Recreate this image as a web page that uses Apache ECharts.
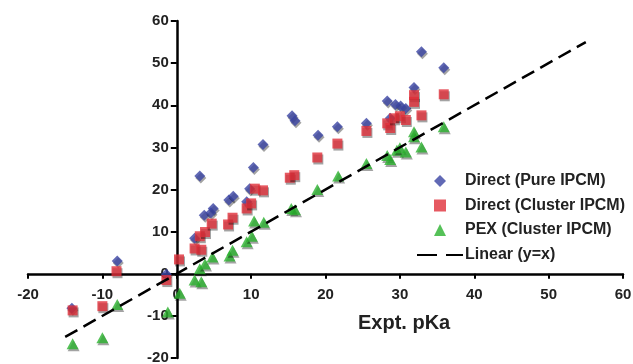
<!DOCTYPE html>
<html>
<head>
<meta charset="utf-8">
<script src="https://cdn.jsdelivr.net/npm/echarts@6/dist/echarts.min.js"></script>
<style>
  html, body { margin: 0; padding: 0; background: #fff; }
  #chart { width: 633px; height: 364px; }
</style>
</head>
<body>
<div id="chart"></div>
<script>
// Direct (Pure IPCM)
var pureX = [-14.1, -8.0, -1.4, 2.4, 3.1, 3.7, 4.9, 4.6, 7.0, 7.6, 9.4, 9.8, 10.3, 11.6, 15.5, 15.9, 19.0, 21.6, 25.5, 28.3, 28.7, 29.4, 30.1, 30.8, 31.9, 32.9, 35.9];
var pureY = [-8.2, 3.0, -0.1, 8.4, 23.2, 13.9, 15.5, 14.5, 17.5, 18.4, 17.1, 20.2, 25.2, 30.7, 37.5, 36.3, 32.9, 34.9, 35.7, 41.0, 36.9, 40.2, 39.8, 39.2, 44.2, 52.7, 48.9];
// Direct (Cluster IPCM)
var clusterX = [-14.0, -10.0, -8.1, -1.4, 0.3, 2.4, 3.3, 3.1, 3.8, 4.7, 6.9, 7.5, 9.4, 10.0, 10.5, 11.6, 15.2, 15.8, 18.9, 21.6, 25.5, 28.3, 28.7, 29.2, 30.0, 30.8, 31.9, 31.9, 32.9, 35.9];
var clusterY = [-8.7, -7.7, 0.6, -1.5, 3.4, 6.0, 5.7, 8.9, 9.9, 11.9, 11.7, 13.3, 15.5, 16.7, 20.2, 19.8, 22.8, 23.4, 27.6, 30.9, 33.9, 35.7, 34.6, 36.9, 37.4, 36.5, 42.4, 40.8, 37.6, 42.6];
// PEX (Cluster IPCM)
var pexX = [-14.0, -10.0, -8.0, -1.2, 0.4, 2.4, 3.3, 3.1, 3.8, 4.8, 7.1, 7.5, 9.4, 10.1, 10.4, 11.7, 15.4, 15.9, 18.9, 21.7, 25.5, 28.3, 28.7, 29.6, 30.0, 30.8, 31.9, 31.9, 32.9, 35.9];
var pexY = [-16.6, -15.2, -7.3, -9.1, -4.6, -1.5, -1.9, 1.2, 2.3, 4.0, 4.2, 5.6, 7.6, 8.9, 12.5, 12.2, 15.5, 15.2, 20.0, 23.2, 26.2, 28.1, 27.1, 29.3, 29.9, 28.9, 33.7, 32.5, 30.1, 34.9];
// Linear (y=x)
var lineX = [-15, 55];

var names = ['Direct (Pure IPCM)', 'Direct (Cluster IPCM)', 'PEX (Cluster IPCM)', 'Linear (y=x)'];

function pairs(xs, ys) {
  return xs.map(function (x, i) { return [x, ys[i]]; });
}

var shadow = { shadowColor: 'rgba(0,0,0,0.45)', shadowOffsetX: 1, shadowOffsetY: 2, shadowBlur: 0 };
var font = 'Liberation Sans, Arial, sans-serif';
var labelStyle = { fontFamily: font, fontSize: 15, fontWeight: 'bold', color: '#222' };

var chart = echarts.init(document.getElementById('chart'));
var option = {
  animation: false,
  title: {
    text: 'Expt. pKa',
    left: 353, top: 308,
    textStyle: { fontFamily: font, fontSize: 20, fontWeight: 'bold', color: '#222' }
  },
  legend: [
    {
      orient: 'vertical',
      left: 434, top: 173, padding: 0,
      itemWidth: 12, itemHeight: 12, itemGap: 8.5,
      data: names.slice(0, 3),
      itemStyle: { shadowColor: 'transparent' },
      textStyle: { fontFamily: font, fontSize: 16, fontWeight: 'bold', color: '#222', padding: [0, 0, 0, 14] }
    },
    {
      orient: 'vertical',
      left: 416, top: 247, padding: 0,
      itemWidth: 46, itemHeight: 12,
      data: names.slice(3),
      lineStyle: { type: [20, 9] },
      textStyle: { fontFamily: font, fontSize: 16, fontWeight: 'bold', color: '#222', padding: [0, 0, 0, -3] }
    }
  ],
  grid: { left: 28, right: 10, top: 21, bottom: 6, containLabel: false, outerBoundsMode: 'none' },
  xAxis: {
    type: 'value', min: -20, max: 60, interval: 10,
    position: 'bottom', offset: -84.2,
    axisLine: { onZero: false, lineStyle: { color: '#000', width: 2.5 } },
    axisTick: { show: true, length: 5, lineStyle: { color: '#000', width: 2 } },
    axisLabel: Object.assign({ margin: 14 }, labelStyle),
    splitLine: { show: false }
  },
  yAxis: {
    type: 'value', min: -20, max: 60, interval: 10,
    position: 'left', offset: -148.8,
    axisLine: { onZero: false, lineStyle: { color: '#000', width: 2.5 } },
    axisTick: { show: true, length: 6, lineStyle: { color: '#000', width: 2 } },
    axisLabel: Object.assign({ margin: 8 }, labelStyle),
    splitLine: { show: false }
  },
  series: [
    {
      name: names[0], type: 'scatter', symbol: 'diamond', symbolSize: 11,
      itemStyle: Object.assign({ color: '#3a43a3' }, shadow),
      data: pairs(pureX, pureY)
    },
    {
      name: names[1], type: 'scatter', symbol: 'rect', symbolSize: 10,
      itemStyle: Object.assign({ color: '#e0303a' }, shadow),
      data: pairs(clusterX, clusterY)
    },
    {
      name: names[2], type: 'scatter', symbol: 'triangle', symbolSize: [12, 11],
      itemStyle: Object.assign({ color: '#2bb12e' }, shadow),
      data: pairs(pexX, pexY)
    },
    {
      name: names[3], type: 'line', symbol: 'none',
      itemStyle: { color: 'transparent' },
      lineStyle: { color: '#000', width: 2.5, type: [14, 7] },
      data: pairs(lineX, lineX)
    }
  ]
};

chart.setOption(option);
window.onresize = chart.resize;
</script>
</body>
</html>
